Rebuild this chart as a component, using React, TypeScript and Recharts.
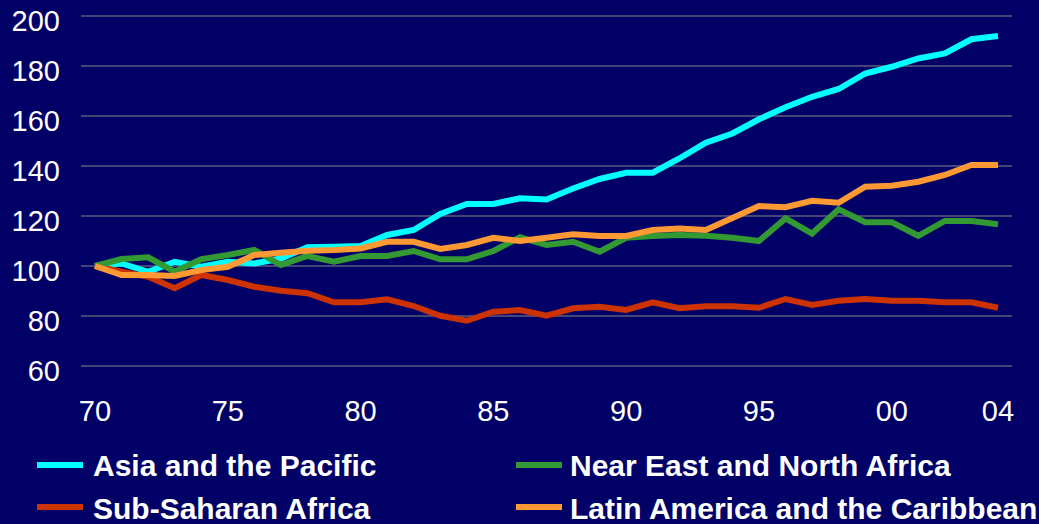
import React from 'react';
import { LineChart, Line, XAxis, YAxis, CartesianGrid, Legend } from 'recharts';

const years = [
  1970, 1971, 1972, 1973, 1974, 1975, 1976, 1977, 1978, 1979,
  1980, 1981, 1982, 1983, 1984, 1985, 1986, 1987, 1988, 1989,
  1990, 1991, 1992, 1993, 1994, 1995, 1996, 1997, 1998, 1999,
  2000, 2001, 2002, 2003, 2004,
];

const asiaPacific = [
  100, 101, 97.7, 101.7, 99.7, 101.7, 101, 103, 107.5, 107.7,
  108, 112.4, 114.4, 120.8, 124.8, 124.8, 127.1, 126.6, 131, 134.8,
  137.3, 137.3, 143, 149.3, 153, 158.7, 163.5, 167.7, 170.8, 177,
  179.7, 183, 185, 190.7, 192,
];

const subSaharan = [
  100, 97.7, 95.7, 91.1, 96.4, 94.4, 91.7, 90.1, 89.1, 85.5,
  85.5, 86.7, 84, 80.1, 78.1, 81.7, 82.4, 80.1, 83.1, 83.7,
  82.4, 85.5, 83.1, 83.9, 83.9, 83.3, 86.8, 84.4, 86.1, 86.8,
  86.1, 86.1, 85.5, 85.5, 83.3,
];

const nearEast = [
  100, 102.8, 103.5, 97.7, 102.7, 104.4, 106.4, 100.4, 104, 101.7,
  104, 104, 106, 102.7, 102.7, 106, 111.5, 108.4, 109.7, 105.7,
  111.3, 112, 112.4, 112.1, 111.3, 110, 119, 113, 122.7, 117.5,
  117.5, 112.1, 118, 118, 116.7,
];

const latinAmerica = [
  100, 96.4, 96.4, 96, 98.4, 99.7, 104.4, 105.3, 106.1, 106.4,
  107, 109.7, 109.7, 106.8, 108.4, 111.3, 110, 111.3, 112.7, 112,
  112, 114.4, 115, 114.4, 119.2, 124, 123.5, 126.1, 125.3, 131.7,
  132.1, 133.7, 136.4, 140.4, 140.4,
];

const xTicks = [1970, 1975, 1980, 1985, 1990, 1995, 2000, 2004];
const yTicks = [60, 80, 100, 120, 140, 160, 180, 200];

const series = [
  { key: 'asia', name: 'Asia and the Pacific', color: '#00FFFF', values: asiaPacific },
  { key: 'ssa', name: 'Sub-Saharan Africa', color: '#CC3300', values: subSaharan },
  { key: 'near', name: 'Near East and North Africa', color: '#339933', values: nearEast },
  { key: 'latin', name: 'Latin America and the Caribbean', color: '#FF9933', values: latinAmerica },
];

const legendLayout = [
  { key: 'asia', col: 0, row: 0 },
  { key: 'near', col: 1, row: 0 },
  { key: 'ssa', col: 0, row: 1 },
  { key: 'latin', col: 1, row: 1 },
];

const data = years.map((year, i) => {
  const row: Record<string, number> = { year };
  series.forEach((s) => {
    row[s.key] = s.values[i];
  });
  return row;
});

const FONT = '"Liberation Sans", Arial, Helvetica, sans-serif';

const XTick = (props: any) => {
  const { x, y, payload } = props;
  const label = String(payload.value).slice(2);
  return (
    <text x={x} y={y + 55} textAnchor="middle" fill="#FFFFFF" fontSize={29} fontFamily={FONT}>
      {label}
    </text>
  );
};

const YTick = (props: any) => {
  const { x, y, payload } = props;
  return (
    <text x={x} y={y + 14.5} textAnchor="end" fill="#FFFFFF" fontSize={29} fontFamily={FONT}>
      {payload.value}
    </text>
  );
};

const colLeft = [37, 516];
const colText = [93, 570];
const rowSwatchTop = [33.7, 76.3];
const rowTextTop = [21.2, 64.4];

const renderLegend = () => (
  <div style={{ position: 'relative', width: 1039, height: 96 }}>
    {legendLayout.map((item) => {
      const s = series.find((q) => q.key === item.key)!;
      return (
        <React.Fragment key={item.key}>
          <div
            style={{
              position: 'absolute',
              left: colLeft[item.col],
              top: rowSwatchTop[item.row],
              width: 46,
              height: 6,
              background: s.color,
            }}
          />
          <div
            style={{
              position: 'absolute',
              left: colText[item.col],
              top: rowTextTop[item.row],
              fontFamily: FONT,
              fontWeight: 'bold',
              fontSize: 30,
              lineHeight: '34px',
              color: '#FFFFFF',
              whiteSpace: 'nowrap',
            }}
          >
            {s.name}
          </div>
        </React.Fragment>
      );
    })}
  </div>
);

export default function App() {
  return (
    <div
      style={{
        position: 'absolute',
        left: 0,
        top: 0,
        width: 1039,
        height: 524,
        background: '#000066',
        overflow: 'hidden',
      }}
    >
      <LineChart
        width={1039}
        height={524}
        data={data}
        margin={{ top: 16, right: 27, bottom: 0, left: 0 }}
      >
        <CartesianGrid vertical={false} stroke="#888888" strokeWidth={1} />
        <XAxis
          dataKey="year"
          type="number"
          domain={[1970, 2004]}
          ticks={xTicks}
          interval={0}
          padding={{ left: 14, right: 14 }}
          axisLine={false}
          tickLine={false}
          tickSize={0}
          tickMargin={0}
          height={62}
          tick={<XTick />}
        />
        <YAxis
          type="number"
          domain={[60, 200]}
          ticks={yTicks}
          interval={0}
          width={81}
          axisLine={false}
          tickLine={false}
          tickSize={0}
          tickMargin={21}
          tick={<YTick />}
        />
        <Legend verticalAlign="bottom" align="left" content={renderLegend} />
        {series.map((s) => (
          <Line
            key={s.key}
            type="linear"
            dataKey={s.key}
            name={s.name}
            stroke={s.color}
            strokeWidth={6}
            dot={false}
            activeDot={false}
            isAnimationActive={false}
          />
        ))}
      </LineChart>
    </div>
  );
}
